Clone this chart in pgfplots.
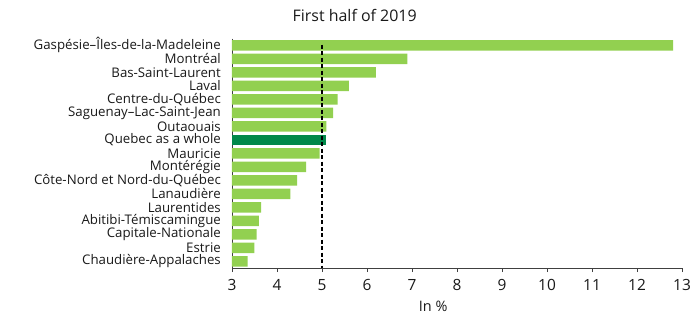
\documentclass[border=0pt]{standalone}
\usepackage{fontspec}
\setmainfont{Open Sans}
\usepackage{pgfplots}
\pgfplotsset{compat=1.18}
\definecolor{lgreen}{RGB}{146,208,80}
\definecolor{dgreen}{RGB}{0,136,74}
\definecolor{txt}{RGB}{25,25,25}
\begin{document}
\begin{tikzpicture}
\path[use as bounding box] (-232bp,-46bp) rectangle (468bp,268bp);
\begin{axis}[
  at={(0,0)}, anchor=south west,
  scale only axis, width=450bp, height=229.5bp,
  xmin=3, xmax=13, ymin=-0.5, ymax=16.5,
  y dir=reverse,
  axis x line*=bottom, axis y line*=left,
  axis line style={draw=black!75, line width=0.8bp, -},
  xtick={3,4,...,13},
  ytick={0,...,16},
  yticklabels={Gaspésie–Îles-de-la-Madeleine, Montréal, Bas-Saint-Laurent, Laval, Centre-du-Québec, Saguenay–Lac-Saint-Jean, Outaouais, Quebec as a whole, Mauricie, Montérégie, Côte-Nord et Nord-du-Québec, Lanaudière, Laurentides, Abitibi-Témiscamingue, Capitale-Nationale, Estrie, Chaudière-Appalaches},
  y tick label style={font=\fontsize{13.3}{14}\selectfont, text=txt, inner sep=0pt, anchor=east, xshift=-7bp},
  x tick label style={font=\fontsize{15.5}{17}\selectfont, text=txt, yshift=-4bp},
  /pgf/number format/assume math mode=true,
  x tick style={draw=black!75, line width=0.8bp},
  tick align=outside,
  major tick length=4bp,
  ytick style={draw=none},
  xlabel={In \%},
  xlabel style={at={(axis description cs:0.447,-0.168)}, anchor=center, font=\fontsize{14.5}{16}\selectfont, text=txt, inner sep=0pt},
  title={First half of 2019},
  title style={at={(axis description cs:0.2727,1.074)}, anchor=center, font=\fontsize{16}{18}\selectfont, text=txt},
  clip=true,
]
\addplot[xbar, bar width=10.5bp, bar shift=0pt, fill=lgreen, draw=none] coordinates {
 (12.8,0) (6.9,1) (6.2,2) (5.6,3) (5.35,4) (5.25,5) (5.1,6)
 (4.95,8) (4.65,9) (4.45,10) (4.3,11) (3.65,12) (3.6,13) (3.55,14) (3.5,15) (3.35,16)};
\addplot[xbar, bar width=10.5bp, bar shift=0pt, fill=dgreen, draw=none] coordinates {(5.1,7)};
\addplot[sharp plot, black, line width=1.4bp, dash pattern=on 4bp off 2.5bp, mark=none] coordinates {(5,-0.05) (5,16.5)};
\end{axis}
\end{tikzpicture}
\end{document}
